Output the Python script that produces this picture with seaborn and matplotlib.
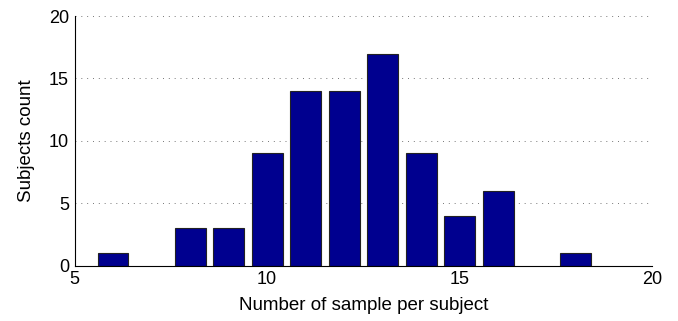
import matplotlib
matplotlib.use('Agg')
import matplotlib.pyplot as plt
import seaborn as sns
import pandas as pd

# Histogram counts
samples_per_subject = [6, 8, 9, 10, 11, 12, 13, 14, 15, 16, 18]
subject_counts = [1, 3, 3, 9, 14, 14, 17, 9, 4, 6, 1]
x_ticks = [5, 10, 15, 20]
y_ticks = [0, 5, 10, 15, 20]

sns.set_style('white')
plt.rcParams['font.family'] = ['Liberation Sans', 'DejaVu Sans']
plt.rcParams['text.color'] = 'black'
plt.rcParams['axes.labelcolor'] = 'black'

df = pd.DataFrame({'samples': samples_per_subject, 'count': subject_counts})

fig = plt.figure(figsize=(6.78, 3.21), dpi=100)
ax = fig.add_axes([0.110, 0.172, 0.852, 0.778])

sns.barplot(data=df, x='samples', y='count', native_scale=True, width=0.8,
            color='#00008F', saturation=1, edgecolor='#222222', linewidth=0.8, ax=ax)

ax.set_xlim(5, 20)
ax.set_ylim(0, 20)
ax.set_xticks(x_ticks)
ax.set_yticks(y_ticks)
ax.set_xticklabels([str(t) for t in x_ticks])
ax.set_yticklabels([str(t) for t in y_ticks])

# dotted horizontal grid
ax.yaxis.grid(True, linestyle=(0, (1, 5)), color='#777777', linewidth=0.7)
ax.xaxis.grid(False)
ax.set_axisbelow(True)

for side in ['top', 'right']:
    ax.spines[side].set_visible(False)
for side in ['left', 'bottom']:
    ax.spines[side].set_color('black')
    ax.spines[side].set_linewidth(0.8)

ax.tick_params(direction='in', length=4, width=0.8, labelsize=13, colors='black', pad=4)
ax.tick_params(axis='x', top=False)
ax.tick_params(axis='y', right=False)

ax.set_xlabel('Number of sample per subject', fontsize=13.5, labelpad=6, color='black')
ax.set_ylabel('Subjects count', fontsize=13.5, labelpad=10, color='black')

fig.savefig('out.png', dpi=100)
